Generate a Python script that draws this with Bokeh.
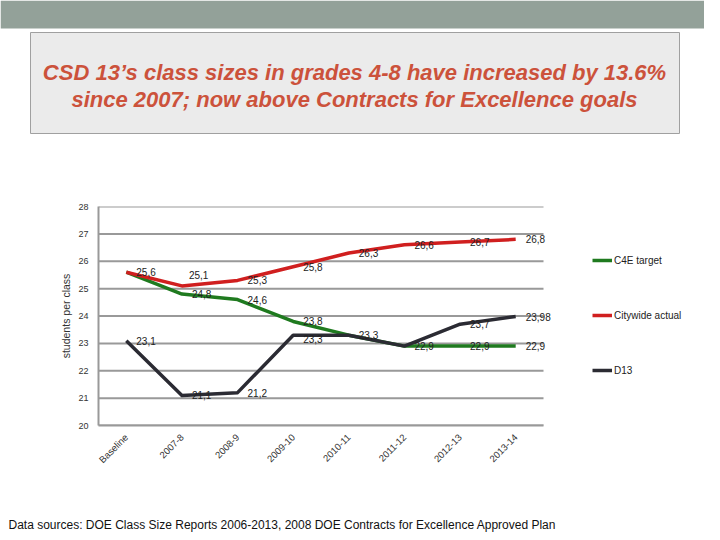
import math
from bokeh.plotting import figure
from bokeh.layouts import column
from bokeh.models import (Range1d, ColumnDataSource, Legend, LegendItem, FixedTicker)
from bokeh.embed import file_html
from bokeh.resources import INLINE
from bokeh.core.properties import value

# ---- data ----
categories = ["Baseline", "2007-8", "2008-9", "2009-10", "2010-11", "2011-12", "2012-13", "2013-14"]
c4e_target = [25.6, 24.8, 24.6, 23.8, 23.3, 22.9, 22.9, 22.9]
citywide_actual = [25.6, 25.1, 25.3, 25.8, 26.3, 26.6, 26.7, 26.8]
d13 = [23.1, 21.1, 21.2, 23.3, 23.3, 22.9, 23.7, 23.98]
y_ticks = [20, 21, 22, 23, 24, 25, 26, 27, 28]

title_lines = ["CSD 13\u2019s class sizes in grades 4-8 have increased by 13.6%",
               "since 2007; now above Contracts for Excellence goals"]
footer = "Data sources: DOE Class Size Reports 2006-2013, 2008 DOE Contracts for Excellence Approved Plan"

W = 704
FONT = "Liberation Sans"
positions = list(range(len(categories)))


def blank_fig(h):
    f = figure(width=W, height=h, x_range=Range1d(0, W), y_range=Range1d(h, 0),
               output_backend="svg", toolbar_location=None,
               min_border=0, min_border_left=0, min_border_right=0,
               min_border_top=0, min_border_bottom=0, frame_align=False)
    f.axis.visible = False
    f.grid.visible = False
    f.outline_line_color = None
    f.background_fill_color = "white"
    f.border_fill_color = "white"
    return f


# ---- header ----
HA = 140
head = blank_fig(HA)
head.quad(left=[0], right=[W], top=[0], bottom=[28], fill_color="#93a199", line_alpha=0)
head.quad(left=[30], right=[679], top=[32], bottom=[133], fill_color="#ebebeb",
          line_color="#a0a0a0", line_width=1)
head.text(x=[354, 354], y=[72, 99], text=title_lines, text_align="center",
          text_baseline="middle", text_font=value(FONT), text_font_size="22px",
          text_font_style="bold italic", text_color="#cc523b")

# ---- chart ----
HB = 340
FRAME_L, FRAME_T, FRAME_B = 98, 66, 285
unit_px = (543 - 98) / len(categories)
x_end = -0.5 + (W - FRAME_L) / unit_px

p = figure(width=W, height=HB, x_range=Range1d(-0.5, x_end), y_range=Range1d(20, 28),
           output_backend="svg", toolbar_location=None, frame_align=False,
           min_border_left=FRAME_L, min_border_right=0, min_border_top=FRAME_T,
           min_border_bottom=HB - FRAME_B)
p.outline_line_color = None
p.background_fill_color = "white"
p.border_fill_color = "white"
p.grid.visible = False

# gridlines limited to the category span
p.segment(x0=[-0.5] * len(y_ticks), x1=[len(categories) - 0.5] * len(y_ticks),
          y0=y_ticks, y1=y_ticks, line_color="#999999", line_width=2)

for ax in (p.xaxis, p.yaxis):
    ax.axis_line_color = "#999999"
    ax.axis_line_width = 2
    ax.major_tick_line_color = None
    ax.minor_tick_line_color = None
    ax.major_tick_out = 0
    ax.major_tick_in = 0
    ax.major_label_text_font = FONT
    ax.major_label_text_color = "#333333"
p.yaxis.ticker = FixedTicker(ticks=y_ticks)
p.yaxis.major_label_text_font_size = "9px"
p.yaxis.major_label_standoff = 10
p.yaxis.axis_label = "students per class"
p.yaxis.axis_label_text_font = FONT
p.yaxis.axis_label_text_font_size = "10.5px"
p.yaxis.axis_label_text_font_style = "normal"
p.yaxis.axis_label_text_color = "#333333"
p.yaxis.axis_label_standoff = 3

p.xaxis.ticker = FixedTicker(ticks=positions)
p.xaxis.major_label_overrides = {i: c for i, c in zip(positions, categories)}
p.xaxis.bounds = (-0.5, len(categories) - 0.5)
p.xaxis.major_label_text_font_size = "9.5px"
p.xaxis.major_label_orientation = math.pi / 4
p.xaxis.major_label_standoff = 10

series = [("C4E target", c4e_target, "#1f7a1f"),
          ("Citywide actual", citywide_actual, "#d01f1f"),
          ("D13", d13, "#2b2b33")]
items = []
for name, vals, col in series:
    r = p.line(positions, vals, line_color=col, line_width=3.5, line_join="round")
    items.append(LegendItem(label=name, renderers=[r]))


def fmt(v):
    return str(v).replace(".", ",")


lx, ly, lt, lxo, lyo = [], [], [], [], []
for i in positions:
    lx.append(i); ly.append(citywide_actual[i]); lt.append(fmt(citywide_actual[i]))
    if i == 1:
        lxo.append(7); lyo.append(-11)
    else:
        lxo.append(10); lyo.append(0)
    if c4e_target[i] != citywide_actual[i] and c4e_target[i] != d13[i]:
        lx.append(i); ly.append(c4e_target[i]); lt.append(fmt(c4e_target[i]))
        lxo.append(10); lyo.append(0)
    lx.append(i); ly.append(d13[i]); lt.append(fmt(d13[i]))
    lxo.append(10); lyo.append(4 if i == 3 else 0)

src = ColumnDataSource(dict(x=lx, y=ly, t=lt, xo=lxo, yo=lyo))
p.text(x="x", y="y", text="t", x_offset="xo", y_offset="yo", source=src,
       text_font=value(FONT), text_font_size="10px", text_color="#222222",
       text_baseline="middle", text_align="left")

legend = Legend(items=items, location=(494, 45), orientation="vertical",
                glyph_width=20, glyph_height=20, label_height=20, spacing=35,
                label_standoff=2, padding=0, margin=0,
                label_text_font=FONT, label_text_font_size="10px",
                label_text_color="#222222",
                border_line_alpha=0, background_fill_alpha=0)
p.add_layout(legend)

# ---- footer ----
HC = 52
foot = blank_fig(HC)
foot.text(x=[8], y=[44], text=[footer], text_align="left", text_baseline="middle",
          text_font=value(FONT), text_font_size="12px", text_color="#111111")

layout = column(head, p, foot, spacing=0)
open("out.html", "w").write(file_html(layout, INLINE))
